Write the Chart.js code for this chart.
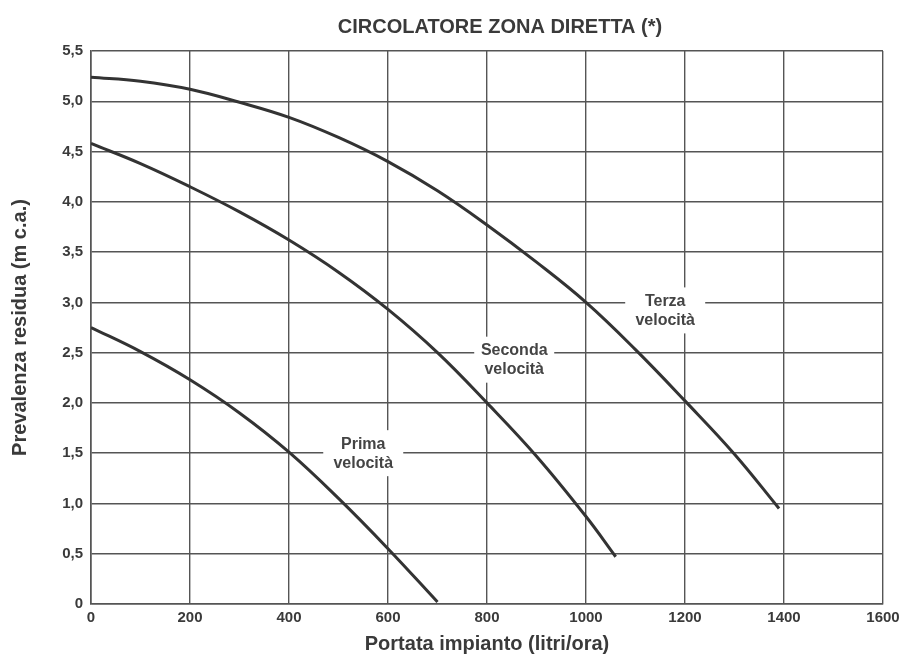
<!DOCTYPE html>
<html>
<head>
<meta charset="utf-8">
<script src="https://cdn.jsdelivr.net/npm/chart.js@4.4.1/dist/chart.umd.min.js"></script>
<style>
  html, body { margin: 0; padding: 0; background: #ffffff; }
  #wrap { width: 905px; height: 658px; position: relative; }
</style>
</head>
<body>
<div id="wrap"><canvas id="c"></canvas></div>
<script>
// ---- data ----
const chartTitle = 'CIRCOLATORE ZONA DIRETTA (*)';
const xTitle = 'Portata impianto (litri/ora)';
const yTitle = 'Prevalenza residua (m c.a.)';

const seriesNames = ['Prima velocità', 'Seconda velocità', 'Terza velocità'];

const flowPrima = [0, 100, 200, 300, 400, 500, 600, 700];
const headPrima = [2.75, 2.51, 2.23, 1.90, 1.51, 1.05, 0.55, 0.02];

const flowSeconda = [0, 100, 200, 300, 400, 500, 600, 700, 800, 900, 1000, 1060];
const headSeconda = [4.58, 4.38, 4.15, 3.90, 3.62, 3.30, 2.93, 2.50, 2.00, 1.47, 0.87, 0.47];

const flowTerza = [0, 100, 200, 300, 400, 500, 600, 700, 800, 900, 1000, 1100, 1200, 1300, 1390];
const headTerza = [5.24, 5.20, 5.12, 4.99, 4.84, 4.64, 4.40, 4.11, 3.77, 3.40, 3.00, 2.53, 2.02, 1.49, 0.95];

// label anchors (data coordinates)
const labelX = [550, 855, 1160];
const labelY = [1.50, 2.43, 2.92];

const xTicks = [0, 200, 400, 600, 800, 1000, 1200, 1400, 1600];
const yTicks = [0, 0.5, 1, 1.5, 2, 2.5, 3, 3.5, 4, 4.5, 5, 5.5];

// ---- chart ----
const FONT = '"Liberation Sans", Arial, Helvetica, sans-serif';
const GRID = '#555555';
const CURVE = '#333333';
const TEXT = '#3a3a3a';

function pts(xs, ys) { return xs.map((x, i) => ({ x: x, y: ys[i] })); }

const curveLabels = {
  id: 'curveLabels',
  afterDatasetsDraw(chart) {
    const ctx = chart.ctx;
    const xs = chart.scales.x, ys = chart.scales.y;
    ctx.save();
    ctx.font = 'bold 16px ' + FONT;
    ctx.textAlign = 'center';
    ctx.textBaseline = 'middle';
    seriesNames.forEach((name, i) => {
      const cx = xs.getPixelForValue(labelX[i]);
      const cy = ys.getPixelForValue(labelY[i]);
      const parts = name.split(' ');
      const w = 80, h = 46;
      ctx.fillStyle = '#ffffff';
      ctx.fillRect(cx - w / 2, cy - h / 2, w, h);
      ctx.fillStyle = '#444444';
      ctx.fillText(parts[0], cx, cy - 9);
      ctx.fillText(parts[1], cx, cy + 10);
    });
    ctx.restore();
  },
  afterDraw(chart) {
    const ctx = chart.ctx;
    ctx.save();
    ctx.font = 'bold 20px ' + FONT;
    ctx.fillStyle = TEXT;
    ctx.textAlign = 'center';
    ctx.textBaseline = 'middle';
    ctx.fillText(chartTitle, 500, 27);
    ctx.restore();
  }
};

new Chart(document.getElementById('c'), {
  type: 'line',
  data: {
    datasets: [
      { label: seriesNames[0], data: pts(flowPrima, headPrima) },
      { label: seriesNames[1], data: pts(flowSeconda, headSeconda) },
      { label: seriesNames[2], data: pts(flowTerza, headTerza) }
    ].map(d => Object.assign(d, {
      borderColor: CURVE, borderWidth: 3, pointRadius: 0, fill: false,
      tension: 0.4, borderCapStyle: 'butt'
    }))
  },
  options: {
    responsive: true,
    maintainAspectRatio: false,
    animation: false,
    layout: { padding: { left: 0, right: 22, top: 51, bottom: 0 } },
    plugins: { legend: { display: false }, tooltip: { enabled: false }, title: { display: false } },
    scales: {
      x: {
        type: 'linear', min: 0, max: 1600,
        afterBuildTicks(s) { s.ticks = xTicks.map(v => ({ value: v })); },
        afterFit(s) { s.height = 54; },
        grid: { color: GRID, lineWidth: 1.4, drawTicks: false },
        border: { color: GRID, width: 1.6 },
        ticks: {
          color: TEXT, font: { family: FONT, size: 15, weight: 'bold' }, padding: 5, maxRotation: 0,
          callback: v => String(v)
        },
        title: { display: true, text: xTitle, color: TEXT, font: { family: FONT, size: 20, weight: 'bold' }, padding: { top: 0, bottom: 2 } }
      },
      y: {
        type: 'linear', min: 0, max: 5.5,
        afterBuildTicks(s) { s.ticks = yTicks.map(v => ({ value: v })); },
        afterFit(s) { s.width = 91; },
        grid: { color: GRID, lineWidth: 1.4, drawTicks: false },
        border: { color: GRID, width: 1.6 },
        ticks: {
          color: TEXT, font: { family: FONT, size: 15, weight: 'bold' }, padding: 8,
          callback: v => v === 0 ? '0' : v.toFixed(1).replace('.', ',')
        },
        title: { display: true, text: yTitle, color: TEXT, font: { family: FONT, size: 20, weight: 'bold' }, padding: { top: 8, bottom: 0 } }
      }
    }
  },
  plugins: [curveLabels]
});
</script>
</body>
</html>
